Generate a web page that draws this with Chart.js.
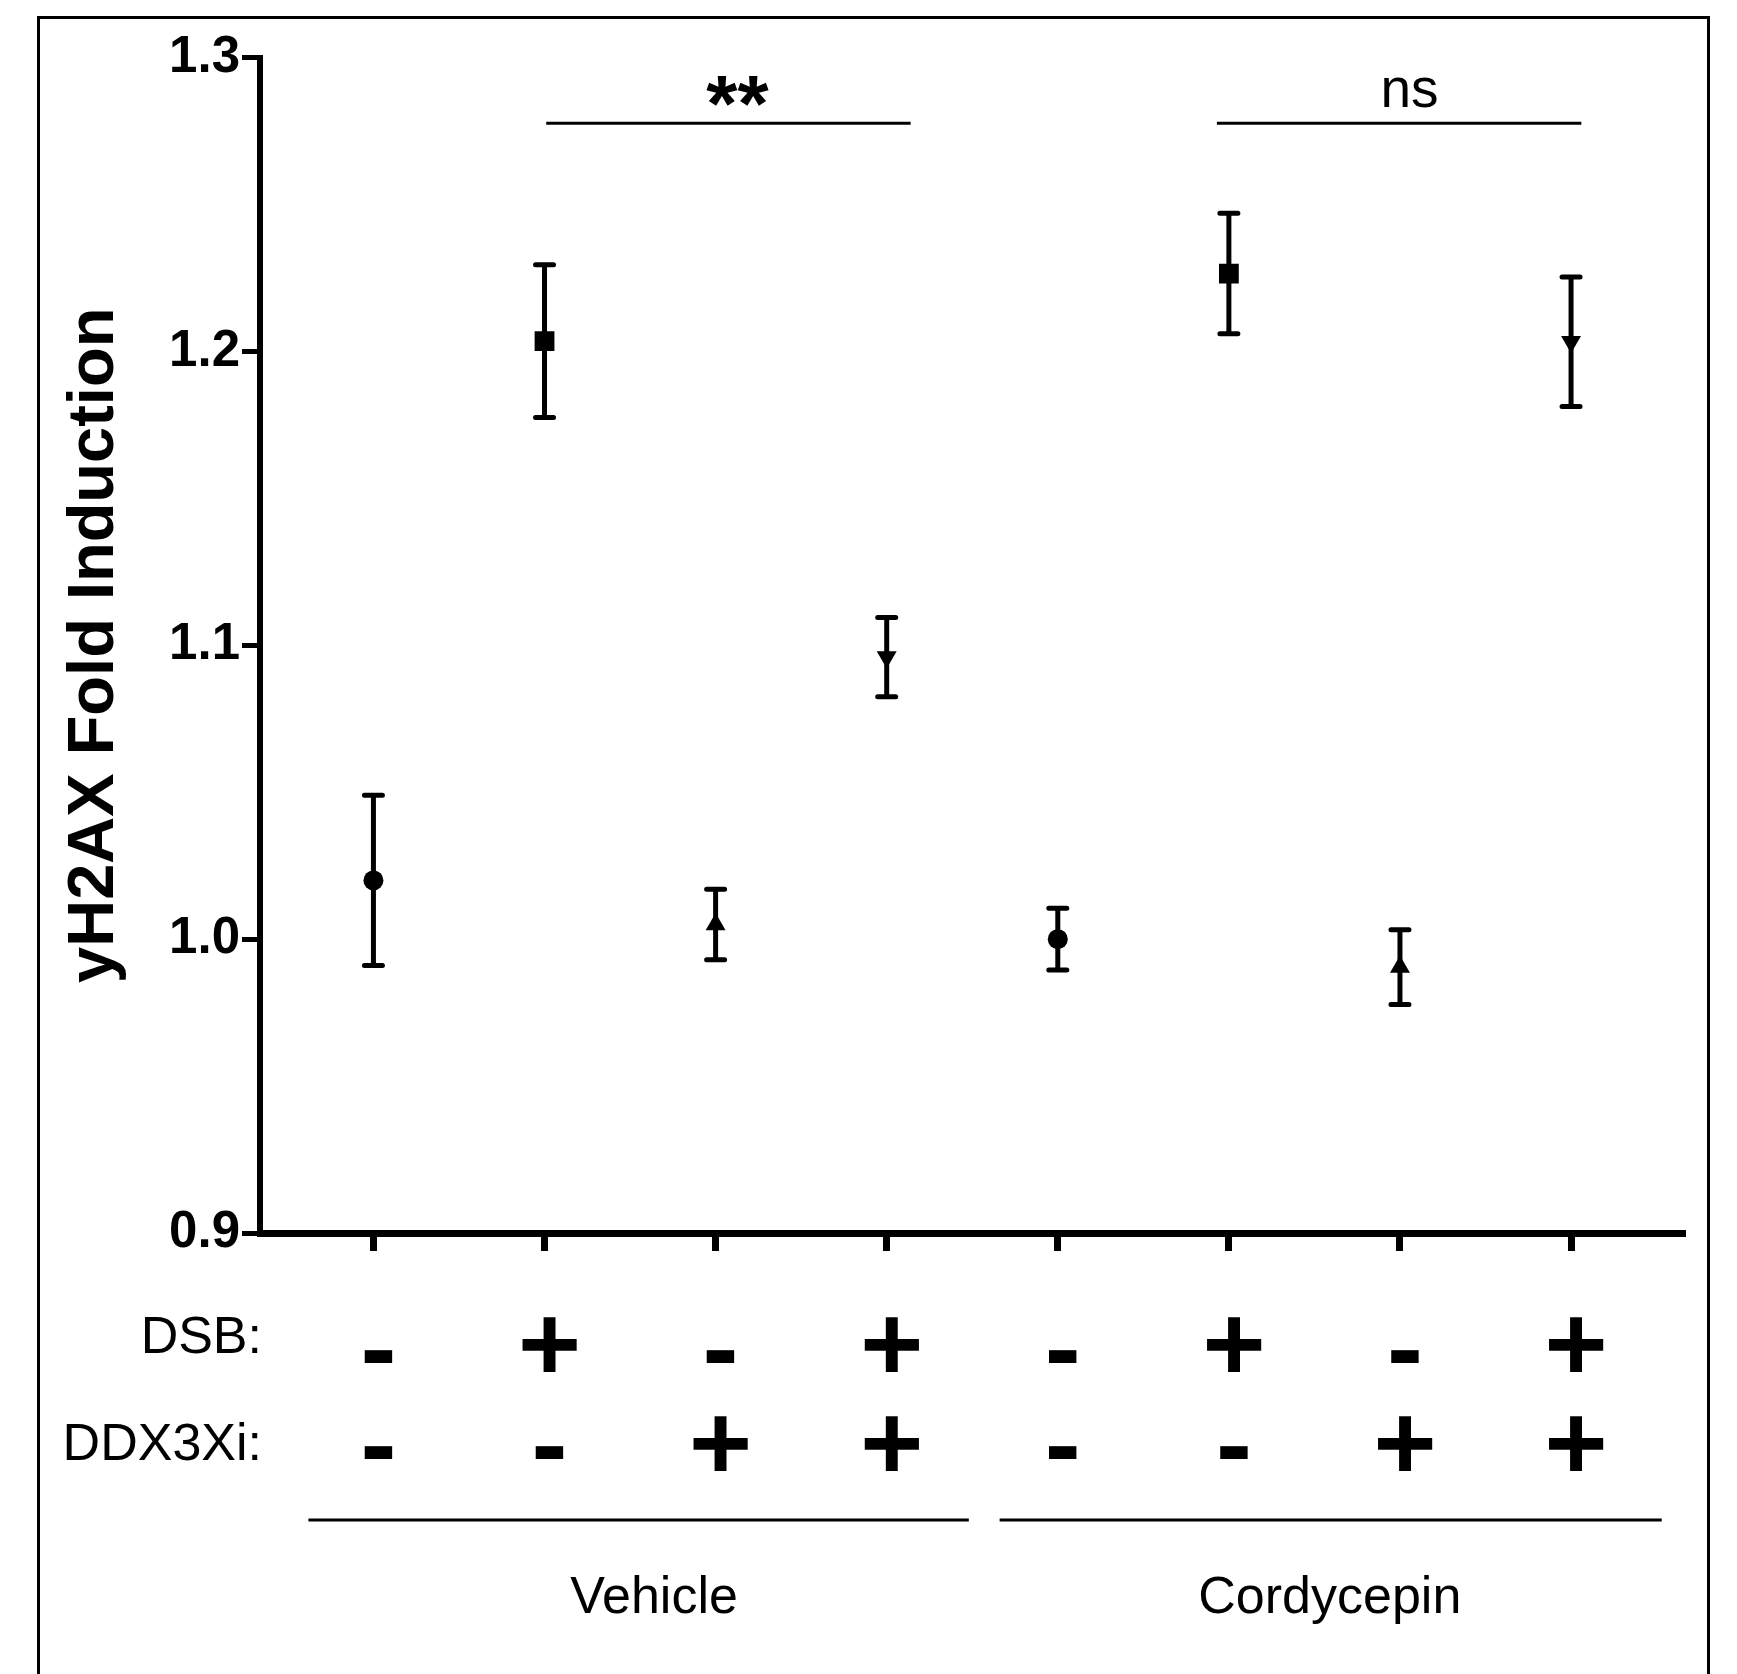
<!DOCTYPE html>
<html>
<head>
<meta charset="utf-8">
<title>yH2AX Fold Induction</title>
<script src="https://cdn.jsdelivr.net/npm/chart.js@4"></script>
<style>
  html, body { margin: 0; padding: 0; background: #fff; }
  canvas { display: block; }
</style>
</head>
<body>
<canvas id="foldChart" width="1737" height="1674"></canvas>
<script>
// treatment rows under the x axis
const dsbRow = ['-', '+', '-', '+', '-', '+', '-', '+'];
const ddx3xiRow = ['-', '-', '+', '+', '-', '-', '+', '+'];
const groupNames = ['Vehicle', 'Cordycepin'];

// mean fold induction and error per condition
const foldMeans = [1.020, 1.2035, 1.005, 1.096, 1.000, 1.2265, 0.9905, 1.2033];
const foldErrors = [0.029, 0.026, 0.012, 0.0135, 0.0105, 0.0205, 0.0127, 0.022];

const yTickValues = [0.9, 1.0, 1.1, 1.2, 1.3];

// pairwise comparisons drawn above the points
const comparisonLabels = ['**', 'ns'];

const FONT = "'Liberation Sans', Arial, Helvetica, sans-serif";

// marker shape repeats per group of four
const shapes = ['circle', 'rect', 'triangle', 'triangle'];
const turns = [0, 0, 0, 180];
const radii = [10, 14, 11.5, 11.5];

function inkText(ctx, text, cx, cy) {
    ctx.textAlign = 'left';
    ctx.textBaseline = 'alphabetic';
    const m = ctx.measureText(text);
    const w = m.actualBoundingBoxLeft + m.actualBoundingBoxRight;
    const h = m.actualBoundingBoxAscent + m.actualBoundingBoxDescent;
    ctx.fillText(text, cx - w / 2 + m.actualBoundingBoxLeft, cy - h / 2 + m.actualBoundingBoxAscent);
}

const panelMarks = {
    id: 'panelMarks',
    beforeDatasetsDraw(chart) {
        const { ctx, scales: { x, y } } = chart;
        ctx.save();
        ctx.strokeStyle = '#000';
        foldMeans.forEach((m, i) => {
            const px = x.getPixelForValue(i);
            const top = y.getPixelForValue(m + foldErrors[i]);
            const bot = y.getPixelForValue(m - foldErrors[i]);
            ctx.lineWidth = 5;
            ctx.lineCap = 'butt';
            ctx.beginPath();
            ctx.moveTo(px, top);
            ctx.lineTo(px, bot);
            ctx.stroke();
            ctx.lineCap = 'round';
            ctx.beginPath();
            ctx.moveTo(px - 9, top);
            ctx.lineTo(px + 9, top);
            ctx.moveTo(px - 9, bot);
            ctx.lineTo(px + 9, bot);
            ctx.stroke();
        });
        ctx.restore();
    },
    afterDraw(chart) {
        const { ctx, scales: { x, y } } = chart;
        ctx.save();
        ctx.fillStyle = '#000';
        ctx.strokeStyle = '#000';

        // outer frame
        ctx.lineWidth = 3;
        ctx.strokeRect(38.5, 17.5, 1670, 1720);

        // comparison bars
        const spans = [[1.01, 3.14, 2.13], [4.93, 7.06, 6.06]];
        const barY = y.getPixelForValue(1.2777);
        ctx.lineWidth = 3;
        spans.forEach(([a, b, mid], k) => {
            ctx.beginPath();
            ctx.moveTo(x.getPixelForValue(a), barY);
            ctx.lineTo(x.getPixelForValue(b), barY);
            ctx.stroke();
            if (comparisonLabels[k] === '**') {
                ctx.font = `bold 80px ${FONT}`;
                inkText(ctx, comparisonLabels[k], x.getPixelForValue(mid), 90.5);
            } else {
                ctx.font = `55px ${FONT}`;
                inkText(ctx, comparisonLabels[k], x.getPixelForValue(mid), 92.5);
            }
        });

        // treatment rows
        ctx.font = `52px ${FONT}`;
        ctx.textAlign = 'right';
        ctx.textBaseline = 'alphabetic';
        ctx.fillText('DSB:', 262, 1353);
        ctx.fillText('DDX3Xi:', 262, 1460);

        ctx.font = `bold 108px ${FONT}`;
        const rows = [[dsbRow, 1344, 1356], [ddx3xiRow, 1443, 1452]];
        rows.forEach(([signs, plusY, minusY]) => {
            signs.forEach((s, i) => {
                const px = x.getPixelForValue(i) + 5;
                inkText(ctx, s, px, s === '+' ? plusY : minusY);
            });
        });

        // group brackets
        const groupSpans = [[-0.38, 3.48, 1.64], [3.66, 7.53, 5.59]];
        ctx.lineWidth = 3;
        ctx.font = `52px ${FONT}`;
        groupSpans.forEach(([a, b, mid], k) => {
            ctx.beginPath();
            ctx.moveTo(x.getPixelForValue(a), 1520);
            ctx.lineTo(x.getPixelForValue(b), 1520);
            ctx.stroke();
            ctx.textAlign = 'center';
            ctx.textBaseline = 'alphabetic';
            ctx.fillText(groupNames[k], x.getPixelForValue(mid), 1613);
        });
        ctx.restore();
    }
};

const ctx = document.getElementById('foldChart').getContext('2d');

new Chart(ctx, {
    type: 'scatter',
    data: {
        datasets: [{
            data: foldMeans.map((v, i) => ({ x: i, y: v })),
            backgroundColor: '#000',
            borderColor: '#000',
            borderWidth: 0,
            pointStyle: foldMeans.map((_, i) => shapes[i % 4]),
            rotation: foldMeans.map((_, i) => turns[i % 4]),
            pointRadius: foldMeans.map((_, i) => radii[i % 4]),
            pointHoverRadius: foldMeans.map((_, i) => radii[i % 4])
        }]
    },
    options: {
        responsive: false,
        devicePixelRatio: 1,
        animation: false,
        layout: { padding: { top: 57.6, right: 52, bottom: 0, left: 0 } },
        plugins: {
            legend: { display: false },
            tooltip: { enabled: false }
        },
        scales: {
            x: {
                type: 'linear',
                min: -0.663,
                max: 7.666,
                afterBuildTicks: s => { s.ticks = dsbRow.map((_, i) => ({ value: i })); },
                afterFit: s => { s.height = 441; },
                ticks: { display: false },
                grid: { drawOnChartArea: false, drawTicks: true, tickLength: 18, tickWidth: 7, tickColor: '#000' },
                border: { display: true, width: 7, color: '#000' }
            },
            y: {
                min: 0.9,
                max: 1.3,
                afterBuildTicks: s => { s.ticks = yTickValues.map(v => ({ value: v })); },
                afterFit: s => { s.width = 260; },
                ticks: {
                    color: '#000',
                    padding: 2,
                    font: { family: FONT, size: 51, weight: 'bold' },
                    callback: v => v.toFixed(1)
                },
                grid: { drawOnChartArea: false, tickLength: 18, tickWidth: 5, tickColor: '#000' },
                border: { width: 6, color: '#000' },
                title: {
                    display: true,
                    text: 'yH2AX Fold Induction',
                    color: '#000',
                    font: { family: FONT, size: 65, weight: 'bold' },
                    padding: { top: 56, bottom: 0 }
                }
            }
        }
    },
    plugins: [panelMarks]
});
</script>
</body>
</html>
